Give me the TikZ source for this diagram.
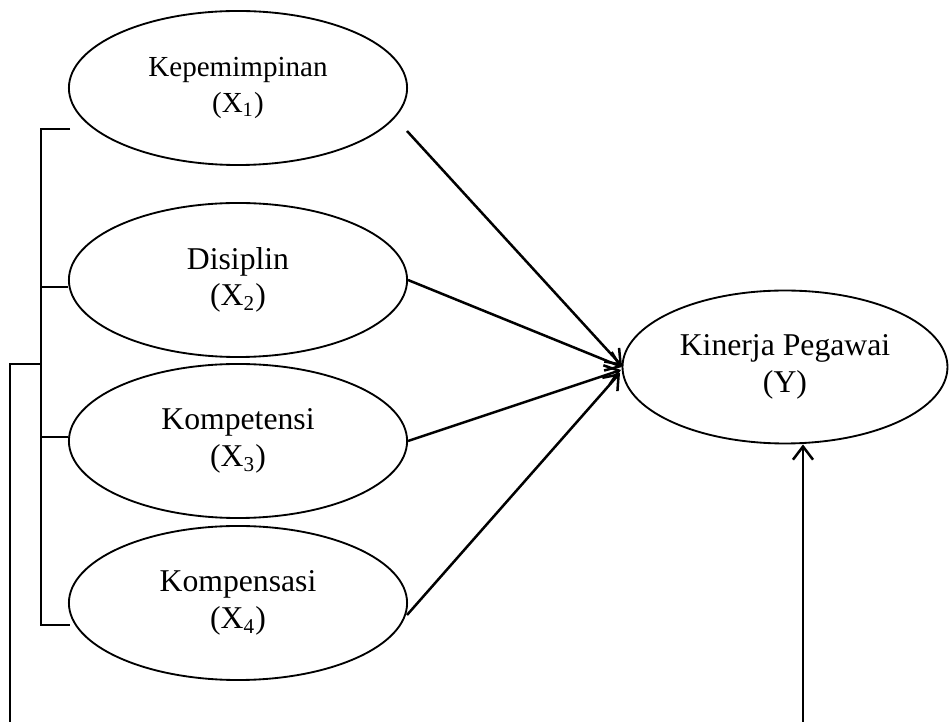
\documentclass[tikz,border=0pt]{standalone}
\usepackage{fontspec}
\setmainfont{Liberation Serif}
\usetikzlibrary{arrows.meta,shapes.geometric}
\begin{document}
\begin{tikzpicture}[x=0.3785pt,y=-0.3785pt,
  var/.style={draw, ellipse, line width=0.7pt, minimum width=128pt, minimum height=58.3pt,
    inner sep=0pt, align=center, font=\fontsize{12}{13.8}\selectfont},
  link/.style={line width=0.95pt},
  arr/.style={link, -{Straight Barb[length=5pt,width=7.6pt,line width=0.95pt]}}]
\useasboundingbox (0,0) rectangle (950,722);
% variables
\node[var, font=\fontsize{11}{13.4}\selectfont] (x1) at (238,88) {Kepemimpinan\\(X\textsubscript{1})};
\node[var] (x2) at (238,280) {Disiplin\\(X\textsubscript{2})};
\node[var] (x3) at (238,441) {Kompetensi\\(X\textsubscript{3})};
\node[var] (x4) at (238,603) {Kompensasi\\(X\textsubscript{4})};
\node[var, minimum width=123pt, minimum height=57.9pt] (y) at (785,367) {Kinerja Pegawai\\(Y)};
% bracket coordinates
\coordinate (bt) at (41,129);
\coordinate (bt1) at (70,129);
\coordinate (b2) at (41,287);
\coordinate (b3) at (41,437);
\coordinate (bb) at (41,625);
\coordinate (bb1) at (70,625);
\coordinate (bm) at (41,364);
\coordinate (lm) at (10,364);
\coordinate (lb) at (10,722);
\coordinate (yb) at (803,722);
% start points of arrows
\coordinate (s1) at (407,131);
\coordinate (s4) at (407,615);
% end points
\coordinate (e1) at (622,366);
\coordinate (e2) at (622,367);
\coordinate (e3) at (621,370);
\coordinate (e4) at (620,373);
% bracket
\draw[link] (bt1) -- (bt) -- (bb) -- (bb1);
\draw[link] (b2) -- (x2.west |- b2);
\draw[link] (b3) -- (x3.west |- b3);
\draw[link] (bm) -- (lm) -- (lb);
% arrows
\draw[arr] (s1) -- (e1);
\draw[arr] (x2.east) -- (e2);
\draw[arr] (x3.east) -- (e3);
\draw[arr] (s4) -- (e4);
\draw[arr] (yb) -- (yb |- y.south);
\end{tikzpicture}
\end{document}
